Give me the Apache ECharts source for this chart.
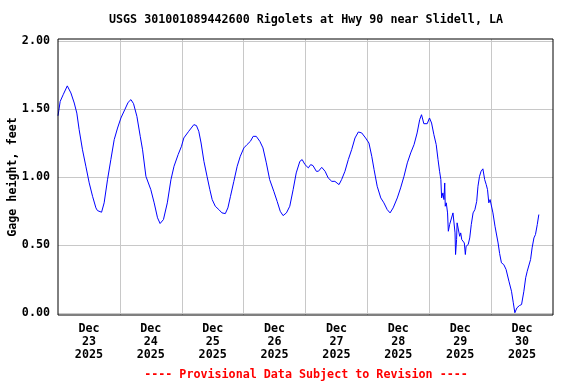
<!DOCTYPE html>
<html>
<head>
<meta charset="utf-8">
<script src="https://cdn.jsdelivr.net/npm/echarts@6/dist/echarts.min.js"></script>
<style>html,body{margin:0;padding:0;background:#fff}#c{width:576px;height:384px}</style>
</head>
<body>
<div id="c"></div>
<script>
// Hours since Dec 23, 2025 00:00
const hours = [0, 0.85, 2.0, 3.6, 5.0, 6.3, 7.3, 8.2, 9.5, 10.8, 12.1, 13.4, 14.7, 15.3, 16.9, 17.9, 19.2, 20.5, 21.8, 23.1, 24.4, 25.9, 27.2, 28.3, 29.3, 30.6, 31.9, 32.8, 34.1, 36.0, 37.3, 38.6, 39.6, 40.9, 42.4, 43.8, 45.0, 46.6, 47.9,
  48.8, 50.7, 52.7, 53.7, 54.6, 55.5, 56.6, 57.8, 58.9, 59.8, 61.0, 62.4, 63.6, 64.9, 65.9, 66.9, 68.2, 69.5, 70.7, 72.1, 73.3, 74.6, 75.7, 76.9, 78.3, 79.5, 80.8, 82.1, 83.7, 85.0, 86.2, 87.3, 88.6, 89.9, 91.2, 92.4, 93.8, 94.7, 95.8,
  97.1, 98.0, 98.9, 100.2, 101.0, 102.3, 103.6, 104.8, 106.2, 107.4, 109.0, 110.0, 111.3, 112.6, 113.9, 115.2, 116.5, 117.8, 119.3, 120.6, 121.7, 122.6, 123.8, 125.2, 126.4, 127.7, 128.8, 130.0, 131.6, 132.9, 134.2, 135.5, 136.8, 138.1, 139.3, 140.3, 141.0,
  141.9, 143.2, 144.1, 144.9, 145.8, 146.7, 147.4, 148.0, 148.5, 148.8, 149.3, 149.7, 150.0, 150.2, 150.6, 151.1, 151.4, 151.9, 152.5, 153.2, 153.6, 154.0, 154.2, 154.6, 154.8, 155.2, 155.8, 156.2, 156.6, 157.1, 157.6, 158.0, 158.3, 159.1, 159.7, 160.3, 161.0, 161.7, 162.4, 162.9, 163.5, 164.1, 164.8, 165.5, 166.1, 166.6, 167.1, 167.6, 168.2, 168.7, 169.5, 170.0, 170.7, 171.3, 172.0, 172.9, 173.8, 174.9, 175.9, 176.6, 177.2, 178.0, 179.0, 179.8, 180.7, 181.4, 182.0, 182.6, 183.3, 183.9, 184.6, 185.2, 185.9, 186.5];
// Gage height, feet
const gageHeight = [1.45, 1.556, 1.605, 1.67, 1.618, 1.544, 1.47, 1.348, 1.20, 1.079, 0.957, 0.858, 0.773, 0.753, 0.741, 0.81, 0.98, 1.128, 1.275, 1.36, 1.434, 1.495, 1.549, 1.569, 1.539, 1.446, 1.299, 1.20, 1.005, 0.907, 0.81, 0.70, 0.658, 0.687, 0.81, 0.98, 1.079, 1.165, 1.226,
  1.287, 1.336, 1.385, 1.378, 1.336, 1.25, 1.115, 1.005, 0.907, 0.834, 0.785, 0.76, 0.736, 0.731, 0.773, 0.858, 0.968, 1.079, 1.152, 1.214, 1.238, 1.262, 1.299, 1.299, 1.262, 1.214, 1.104, 0.981, 0.895, 0.821, 0.748, 0.716, 0.736, 0.785, 0.907, 1.03, 1.115, 1.128, 1.091,
  1.067, 1.091, 1.084, 1.042, 1.042, 1.071, 1.042, 0.993, 0.968, 0.968, 0.944, 0.981, 1.042, 1.128, 1.201, 1.287, 1.331, 1.324, 1.287, 1.25, 1.152, 1.054, 0.932, 0.846, 0.81, 0.76, 0.736, 0.773, 0.846, 0.92, 1.005, 1.104, 1.177, 1.238, 1.324, 1.422, 1.458,
  1.392, 1.392, 1.434, 1.397, 1.311, 1.238, 1.128, 1.042, 0.981, 0.846, 0.883, 0.834, 0.956, 0.785, 0.81, 0.736, 0.601, 0.65, 0.638, 0.736, 0.724, 0.589, 0.43, 0.54, 0.663, 0.667, 0.564, 0.589, 0.54, 0.552, 0.515, 0.43, 0.491, 0.503, 0.552, 0.65, 0.736, 0.76, 0.821, 0.932, 1.005, 1.042, 1.06, 0.981, 0.944, 0.907, 0.81, 0.834, 0.821, 0.736, 0.638, 0.626, 0.515, 0.437, 0.369, 0.356, 0.32, 0.234, 0.16, 0.075, 0.002, 0.038, 0.055, 0.062, 0.16, 0.259, 0.307, 0.314, 0.393, 0.479, 0.552, 0.577, 0.65, 0.724];
const dayLabels = ['Dec\n23\n2025', 'Dec\n24\n2025', 'Dec\n25\n2025', 'Dec\n26\n2025', 'Dec\n27\n2025', 'Dec\n28\n2025', 'Dec\n29\n2025', 'Dec\n30\n2025'];
const titleText = 'USGS 301001089442600 Rigolets at Hwy 90 near Slidell, LA';
const footerText = '---- Provisional Data Subject to Revision ----';
const yAxisName = 'Gage height, feet';

const FONT = 'DejaVu Sans Mono';
const FS = 11.7;
const GRIDC = '#c8c8c8';
const chart = echarts.init(document.getElementById('c'), null, {renderer: 'canvas'});
chart.setOption({
  animation: false,
  backgroundColor: '#fff',
  title: [
    {text: titleText, left: 306, top: 14, padding: 0, textAlign: 'center',
     textStyle: {fontFamily: FONT, fontSize: FS, fontWeight: 'bold', color: '#000'}},
    {text: footerText, left: 306, top: 369, padding: 0, textAlign: 'center',
     textStyle: {fontFamily: FONT, fontSize: FS, fontWeight: 'bold', color: '#ff0000'}}
  ],
  grid: [
    {left: 58, top: 41, width: 495, height: 272, show: false, containLabel: false, outerBoundsMode: 'none'},
    {left: 58, top: 39, width: 495, height: 276, show: true, borderColor: '#000', borderWidth: 1, backgroundColor: 'transparent', z: 5, containLabel: false, outerBoundsMode: 'none'}
  ],
  xAxis: [
    {gridIndex: 0, type: 'value', min: 0, max: 192, interval: 24,
     axisLine: {show: false}, axisTick: {show: false}, axisLabel: {show: false}, splitLine: {show: false}},
    {gridIndex: 0, type: 'value', min: 0, max: 192, interval: 12, position: 'bottom',
     axisLine: {show: false}, axisTick: {show: false}, splitLine: {show: false},
     axisLabel: {show: true, margin: 9, lineHeight: 13, fontFamily: FONT, fontSize: FS, fontWeight: 'bold', color: '#000',
       formatter: v => (v % 24 === 12 ? dayLabels[(v - 12) / 24] : '')}},
    {gridIndex: 1, type: 'value', min: 0, max: 192, interval: 24,
     axisLine: {show: false}, axisTick: {show: false}, axisLabel: {show: false},
     splitLine: {show: true, showMinLine: false, showMaxLine: false, lineStyle: {color: GRIDC, width: 1}}}
  ],
  yAxis: [
    {gridIndex: 0, type: 'value', min: 0, max: 2, interval: 0.5,
     name: yAxisName, nameLocation: 'middle', nameGap: 39, nameRotate: 90, nameMoveOverlap: false,
     nameTextStyle: {fontFamily: FONT, fontSize: FS, fontWeight: 'bold', color: '#000'},
     axisLine: {show: false}, axisTick: {show: false},
     axisLabel: {margin: 8, fontFamily: FONT, fontSize: FS, fontWeight: 'bold', color: '#000', formatter: v => v.toFixed(2)},
     splitLine: {show: true, lineStyle: {color: GRIDC, width: 1}}},
    {gridIndex: 1, type: 'value', min: 0, max: 1, show: false}
  ],
  series: [{
    type: 'line', xAxisIndex: 0, yAxisIndex: 0,
    data: hours.map((h, i) => [h, gageHeight[i]]),
    showSymbol: false, symbol: 'none',
    lineStyle: {color: '#0000ff', width: 1}, z: 3
  }]
});
</script>
</body>
</html>
